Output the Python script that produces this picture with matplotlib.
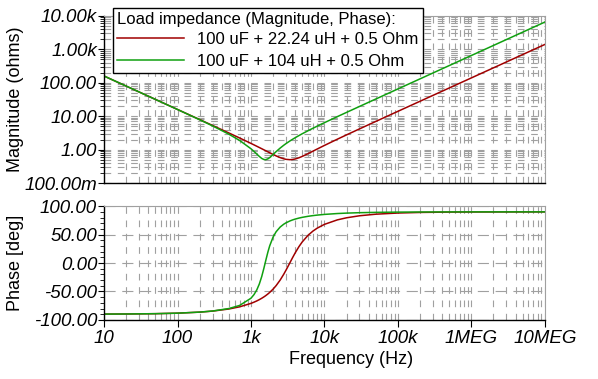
import matplotlib
matplotlib.use("Agg")
import matplotlib.pyplot as plt
from matplotlib.ticker import FixedLocator, FixedFormatter, LogLocator, MultipleLocator, NullFormatter

plt.rcParams['font.family'] = ['Liberation Sans', 'DejaVu Sans']

# frequency points (Hz)
freq = [10, 20, 50, 100, 200, 300, 500, 700, 1000, 1100, 1200, 1300, 1400, 1500,
        1560, 1600, 1700, 1800, 2000, 2200, 2500, 2800, 3000, 3400, 3700, 4000,
        4500, 5000, 6000, 7000, 8000, 10000, 15000, 20000, 30000, 50000,
        1e5, 2e5, 5e5, 1e6, 1e7]

# 100 uF + 22.24 uH + 0.5 Ohm
mag_red = [159.2, 79.58, 31.83, 15.91, 7.945, 5.287, 3.153, 2.233, 1.536, 1.387,
           1.262, 1.156, 1.066, 0.987, 0.945, 0.919, 0.859, 0.806, 0.719, 0.650,
           0.577, 0.531, 0.512, 0.500, 0.508, 0.525, 0.571, 0.628, 0.761, 0.902,
           1.046, 1.335, 2.052, 2.761, 4.169, 6.973, 13.97, 27.95, 69.87, 139.7, 1397]
phase_red = [-89.82, -89.64, -89.10, -88.20, -86.39, -84.57, -80.88, -77.06, -70.99,
             -68.86, -66.66, -64.38, -62.02, -59.58, -58.07, -57.04, -54.41, -51.68,
             -45.92, -39.76, -29.88, -19.51, -12.55, 0.80, 9.86, 17.86, 28.83, 37.27,
             48.90, 56.34, 61.45, 68.01, 75.90, 79.57, 83.11, 85.89, 87.95, 88.98,
             89.59, 89.79, 89.98]

# 100 uF + 104 uH + 0.5 Ohm
mag_green = [159.1, 79.57, 31.80, 15.86, 7.843, 5.133, 2.899, 1.884, 1.063, 0.883,
             0.738, 0.625, 0.547, 0.507, 0.500, 0.503, 0.530, 0.579, 0.715, 0.872,
             1.115, 1.357, 1.515, 1.824, 2.050, 2.272, 2.635, 2.991, 3.690, 4.376,
             5.054, 6.395, 9.709, 13.00, 19.56, 32.64, 65.33, 130.7, 326.7, 653.4, 6535]
phase_green = [-89.82, -89.64, -89.10, -88.19, -86.34, -84.41, -80.07, -74.61, -61.94,
               -55.52, -47.32, -36.86, -23.94, -9.18, -0.10, 5.80, 19.26, 30.28, 45.63,
               55.00, 63.36, 68.38, 70.73, 74.09, 75.88, 77.29, 79.06, 80.38, 82.21,
               83.44, 84.32, 85.52, 87.05, 87.80, 88.54, 89.12, 89.56, 89.78, 89.91,
               89.96, 90.00]

x_ticks = [10, 100, 1e3, 1e4, 1e5, 1e6, 1e7]
x_labels = ['10', '100', '1k', '10k', '100k', '1MEG', '10MEG']
mag_ticks = [0.1, 1, 10, 100, 1e3, 1e4]
mag_labels = ['100.00m', '1.00', '10.00', '100.00', '1.00k', '10.00k']
phase_ticks = [-100, -50, 0, 50, 100]
phase_labels = ['-100.00', '-50.00', '0.00', '50.00', '100.00']

red = '#a00000'
green = '#10a010'
gridc = '#a0a0a0'

fig = plt.figure(figsize=(5.98, 3.79), dpi=100)
ax1 = fig.add_axes([0.174, 0.517, 0.737, 0.441])
ax2 = fig.add_axes([0.174, 0.156, 0.737, 0.30])

for ax in (ax1, ax2):
    ax.set_xscale('log')
    ax.set_xlim(10, 1e7)
    ax.xaxis.set_major_locator(FixedLocator(x_ticks))
    ax.xaxis.set_minor_locator(LogLocator(base=10, subs=range(2, 10), numticks=20))
    ax.xaxis.set_minor_formatter(NullFormatter())
    ax.xaxis.grid(True, which='both', color=gridc, lw=0.8, linestyle=(0, (6, 6)))
    for s in ('top', 'right'):
        ax.spines[s].set_color('#a0a0a0')
    for s in ('left', 'bottom'):
        ax.spines[s].set_color('black')
        ax.spines[s].set_linewidth(1.0)
    ax.tick_params(axis='y', which='major', direction='out', length=4, width=0.8,
                   labelsize=13.5, pad=1)
    ax.tick_params(axis='y', which='minor', direction='out', length=3, width=0.6)
    ax.tick_params(axis='x', which='minor', length=0)

# magnitude
ax1.set_yscale('log')
ax1.set_ylim(0.1, 1e4)
ax1.plot(freq, mag_red, color=red, lw=1.1, label='100 uF + 22.24 uH + 0.5 Ohm')
ax1.plot(freq, mag_green, color=green, lw=1.1, label='100 uF + 104 uH + 0.5 Ohm')
ax1.yaxis.set_major_locator(FixedLocator(mag_ticks))
ax1.yaxis.set_major_formatter(FixedFormatter(mag_labels))
ax1.yaxis.set_minor_locator(LogLocator(base=10, subs=range(2, 10), numticks=20))
ax1.yaxis.set_minor_formatter(NullFormatter())
ax1.yaxis.grid(True, which='both', color=gridc, lw=0.8, linestyle=(0, (6, 6)))
ax1.tick_params(axis='x', which='major', length=0, labelbottom=False)
for lab in ax1.get_yticklabels():
    lab.set_fontstyle('italic')
ax1.set_ylabel('Magnitude (ohms)', fontsize=13)
ax1.yaxis.set_label_coords(-0.181, 0.5)

leg = ax1.legend(loc='upper left', bbox_to_anchor=(0.02, 1.05), fontsize=12,
                 title='Load impedance (Magnitude, Phase):', title_fontsize=12,
                 alignment='left', handlelength=4.0, handletextpad=0.8,
                 borderpad=0.25, labelspacing=0.4, borderaxespad=0, fancybox=False,
                 framealpha=1, edgecolor='black')
leg.get_frame().set_linewidth(1.0)
leg._legend_box.sep = 4

# phase
ax2.set_ylim(-100, 100)
ax2.plot(freq, phase_red, color=red, lw=1.1)
ax2.plot(freq, phase_green, color=green, lw=1.1)
ax2.yaxis.set_major_locator(FixedLocator(phase_ticks))
ax2.yaxis.set_major_formatter(FixedFormatter(phase_labels))
ax2.yaxis.set_minor_locator(MultipleLocator(10))
ax2.yaxis.grid(True, which='major', color=gridc, lw=0.8, linestyle=(0, (10, 6)))
ax2.xaxis.set_major_formatter(FixedFormatter(x_labels))
ax2.tick_params(axis='x', which='major', direction='out', length=5, width=0.8,
                labelsize=13.5, pad=2)
for lab in ax2.get_xticklabels() + ax2.get_yticklabels():
    lab.set_fontstyle('italic')
ax2.set_ylabel('Phase [deg]', fontsize=13)
ax2.yaxis.set_label_coords(-0.181, 0.5)
ax2.set_xlabel('Frequency (Hz)', fontsize=13)
ax2.xaxis.set_label_coords(0.56, -0.27)

fig.savefig('out.png', dpi=100)
